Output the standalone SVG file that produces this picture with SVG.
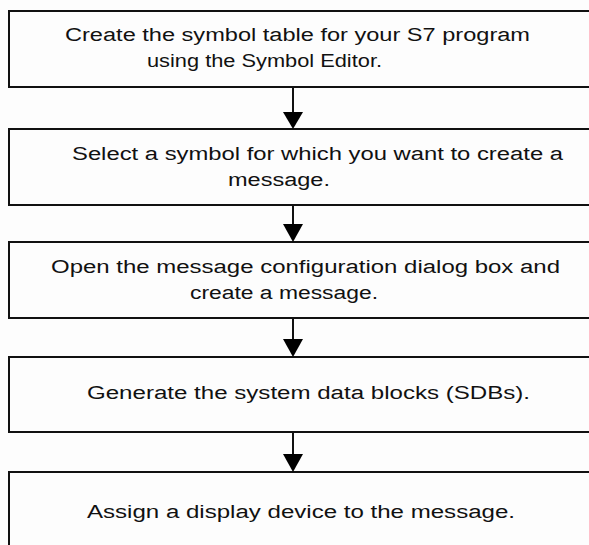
<svg xmlns="http://www.w3.org/2000/svg" width="589" height="545" viewBox="0 0 589 545">
<defs>
<style>
.box{fill:#fdfdfd;stroke:#111;stroke-width:2}
.t{font-family:"Liberation Sans",Arial,sans-serif;font-size:18px;fill:#111;text-anchor:start}
.c{stroke:#111;stroke-width:2;fill:none}
.h{fill:#000}
</style>
</defs>
<rect width="589" height="545" fill="#fdfdfd"/>
<g id="step1">
<rect class="box" x="9" y="11" width="600" height="76"/>
<text class="t" x="65" y="41" textLength="465" lengthAdjust="spacingAndGlyphs">Create the symbol table for your S7 program</text>
<text class="t" x="147" y="67" textLength="235" lengthAdjust="spacingAndGlyphs">using the Symbol Editor.</text>
</g>
<g id="step2">
<rect class="box" x="9" y="129" width="600" height="76"/>
<text class="t" x="72" y="160" textLength="491" lengthAdjust="spacingAndGlyphs">Select a symbol for which you want to create a</text>
<text class="t" x="228" y="186" textLength="102" lengthAdjust="spacingAndGlyphs">message.</text>
</g>
<g id="step3">
<rect class="box" x="9" y="242" width="600" height="76"/>
<text class="t" x="51" y="273" textLength="509" lengthAdjust="spacingAndGlyphs">Open the message configuration dialog box and</text>
<text class="t" x="190" y="299" textLength="188" lengthAdjust="spacingAndGlyphs">create a message.</text>
</g>
<g id="step4">
<rect class="box" x="9" y="357" width="600" height="75"/>
<text class="t" x="87" y="399" textLength="443" lengthAdjust="spacingAndGlyphs">Generate the system data blocks (SDBs).</text>
</g>
<g id="step5">
<rect class="box" x="9" y="472" width="600" height="100"/>
<text class="t" x="87" y="518" textLength="428" lengthAdjust="spacingAndGlyphs">Assign a display device to the message.</text>
</g>
<g id="connectors">
<line class="c" x1="293" y1="87" x2="293" y2="114"/>
<polygon class="h" points="283,112 303,112 293,129"/>
<line class="c" x1="293" y1="205" x2="293" y2="227"/>
<polygon class="h" points="283,224 303,224 293,242"/>
<line class="c" x1="293" y1="318" x2="293" y2="342"/>
<polygon class="h" points="283,339 303,339 293,357"/>
<line class="c" x1="293" y1="432" x2="293" y2="456"/>
<polygon class="h" points="283,454 303,454 293,472"/>
</g>
</svg>
